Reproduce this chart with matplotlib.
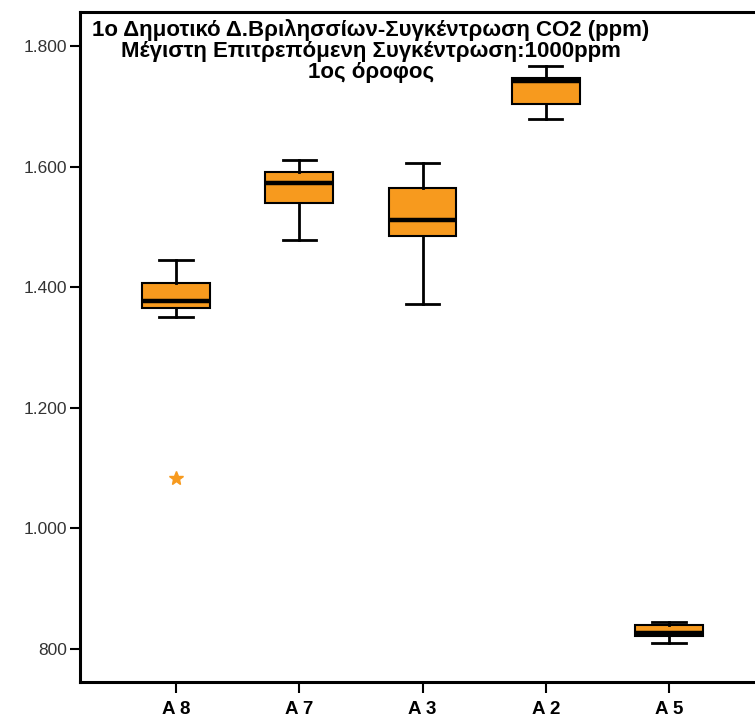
import matplotlib
matplotlib.use("Agg")
import matplotlib.pyplot as plt
from matplotlib.ticker import FuncFormatter

plt.rcParams["font.family"] = ["Liberation Sans", "DejaVu Sans"]

# CO2 values (ppm)
categories = ["A 8", "A 7", "A 3", "A 2", "A 5"]
whislo = [1351, 1479, 1373, 1680, 809]
q1 = [1365, 1540, 1485, 1705, 821]
med = [1377, 1574, 1512, 1742, 826]
q3 = [1407, 1592, 1565, 1747, 839]
whishi = [1445, 1612, 1607, 1768, 845]
outliers = [[1084], [], [], [], []]

title_lines = ["1ο Δημοτικό Δ.Βριλησσίων-Συγκέντρωση CO2 (ppm)",
               "Μέγιστη Επιτρεπόμενη Συγκέντρωση:1000ppm",
               "1ος όροφος"]

W, H = 755, 722
fig = plt.figure(figsize=(W / 100, H / 100), dpi=100)
left, right, top, bottom = 80, 765, 12, 682
ax = fig.add_axes([left / W, (H - bottom) / H, (right - left) / W, (bottom - top) / H])

stats = []
for i, name in enumerate(categories):
    stats.append({"label": name, "whislo": whislo[i], "q1": q1[i], "med": med[i],
                  "q3": q3[i], "whishi": whishi[i], "fliers": outliers[i]})

orange = "#F79A1E"
ax.bxp(stats, positions=range(len(categories)), widths=0.55, patch_artist=True,
       showfliers=True,
       boxprops=dict(facecolor=orange, edgecolor="black", linewidth=1.5),
       medianprops=dict(color="black", linewidth=3.2, solid_capstyle="butt"),
       whiskerprops=dict(color="black", linewidth=2),
       capprops=dict(color="black", linewidth=2),
       capwidths=0.27,
       flierprops=dict(marker="*", markersize=10, markerfacecolor=orange,
                       markeredgecolor=orange, linestyle="none"))

ax.set_xlim(-0.78, 4.78)
ax.set_ylim(745, 1857)
ax.set_yticks([800, 1000, 1200, 1400, 1600, 1800])
ax.yaxis.set_major_formatter(FuncFormatter(lambda v, p: f"{int(v):,}".replace(",", ".")))

for s in ["left", "bottom", "top"]:
    ax.spines[s].set_linewidth(2.2)
ax.spines["right"].set_visible(False)
ax.tick_params(axis="y", length=7, width=1.5, labelsize=12.5, labelcolor="#333333", pad=2)
ax.tick_params(axis="x", length=8, width=1.5, labelsize=13.5, pad=6)
for lab in ax.get_xticklabels():
    lab.set_fontweight("bold")

# title block drawn inside the plot area, one line at a time
for line, base in zip(title_lines, [36, 57, 78]):
    fig.text(371 / W, 1 - base / H, line, ha="center", va="baseline",
             fontsize=16, fontweight="bold")

fig.savefig("out.png", dpi=100)
